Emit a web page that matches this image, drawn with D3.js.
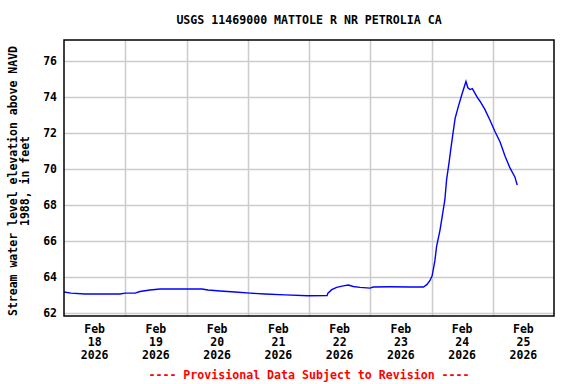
<!DOCTYPE html>
<html>
<head>
<meta charset="utf-8">
<script src="https://cdn.jsdelivr.net/npm/d3@7"></script>
<style>
  body { margin: 0; background: #fff; }
  text { font-family: "DejaVu Sans Mono", "Liberation Mono", monospace; font-weight: bold; }
</style>
</head>
<body>
<div id="chart"></div>
<script>
var title = "USGS 11469000 MATTOLE R NR PETROLIA CA";
var yTitle = ["Stream water level elevation above NAVD", "1988, in feet"];
var footer = "---- Provisional Data Subject to Revision ----";

var dayTicks = ["2026-02-18", "2026-02-19", "2026-02-20", "2026-02-21",
                "2026-02-22", "2026-02-23", "2026-02-24", "2026-02-25"];
var yTicks = [62, 64, 66, 68, 70, 72, 74, 76];

var times = [
  "2026-02-18 00:00", "2026-02-18 02:45", "2026-02-18 08:15", "2026-02-18 21:55",
  "2026-02-19 00:00", "2026-02-19 03:50", "2026-02-19 05:45", "2026-02-19 09:40",
  "2026-02-19 13:40", "2026-02-20 06:05", "2026-02-20 08:25", "2026-02-20 13:10",
  "2026-02-20 19:00", "2026-02-21 00:55", "2026-02-21 06:45", "2026-02-21 14:35",
  "2026-02-21 23:35", "2026-02-22 07:05", "2026-02-22 07:25", "2026-02-22 08:55",
  "2026-02-22 10:50", "2026-02-22 13:25", "2026-02-22 15:25", "2026-02-22 17:20",
  "2026-02-22 20:00", "2026-02-22 23:55", "2026-02-23 01:10", "2026-02-23 07:45",
  "2026-02-23 15:35", "2026-02-23 20:50", "2026-02-23 22:10", "2026-02-23 23:25",
  "2026-02-24 00:15", "2026-02-24 01:20", "2026-02-24 02:00", "2026-02-24 03:20",
  "2026-02-24 04:25", "2026-02-24 05:15", "2026-02-24 05:55", "2026-02-24 06:50",
  "2026-02-24 07:40", "2026-02-24 08:30", "2026-02-24 09:15", "2026-02-24 10:30",
  "2026-02-24 11:50", "2026-02-24 13:30", "2026-02-24 14:15", "2026-02-24 15:05",
  "2026-02-24 16:00", "2026-02-24 17:00", "2026-02-24 18:00", "2026-02-24 19:00",
  "2026-02-24 20:55", "2026-02-24 22:55", "2026-02-25 00:55", "2026-02-25 02:50",
  "2026-02-25 04:50", "2026-02-25 06:45", "2026-02-25 08:40", "2026-02-25 09:35"
];
var stage = [
  63.16, 63.10, 63.05, 63.05,
  63.10, 63.10, 63.19, 63.27,
  63.33, 63.33, 63.27, 63.22,
  63.16, 63.10, 63.05, 63.00,
  62.95, 62.97, 63.10, 63.29,
  63.42, 63.50, 63.55, 63.47,
  63.42, 63.38, 63.44, 63.45,
  63.44, 63.44, 63.57, 63.80,
  64.06, 64.90, 65.70, 66.60,
  67.55, 68.30, 69.40, 70.30,
  71.20, 72.05, 72.80, 73.45,
  74.10, 74.85, 74.50, 74.40,
  74.45, 74.20, 73.95, 73.75,
  73.30, 72.70, 72.06, 71.50,
  70.70, 70.05, 69.55, 69.10
];

var width = 576, height = 384;
var margin = {top: 40, right: 22, bottom: 68, left: 64};
var w = width - margin.left - margin.right,
    h = height - margin.top - margin.bottom;

var parseTime = d3.utcParse("%Y-%m-%d %H:%M"),
    parseDay = d3.utcParse("%Y-%m-%d");

var data = times.map(function(t, i) { return {time: parseTime(t), value: stage[i]}; });

var x = d3.scaleUtc()
    .domain([parseDay("2026-02-18"), parseDay("2026-02-26")])
    .range([0, w]);

var y = d3.scaleLinear()
    .domain([61.83, 77.15])
    .range([h, 0]);

var svg = d3.select("#chart").append("svg")
    .attr("width", width)
    .attr("height", height);

var g = svg.append("g")
    .attr("transform", "translate(" + margin.left + "," + margin.top + ")");

// grid
g.append("g")
    .selectAll("line.h")
    .data(yTicks)
    .enter().append("line")
    .attr("x1", 0).attr("x2", w)
    .attr("y1", function(d) { return Math.round(y(d)) + 0.5; })
    .attr("y2", function(d) { return Math.round(y(d)) + 0.5; })
    .attr("stroke", "#cccccc")
    .attr("stroke-width", 1.5);

g.append("g")
    .selectAll("line.v")
    .data(dayTicks.slice(1))
    .enter().append("line")
    .attr("x1", function(d) { return Math.round(x(parseDay(d))) + 0.5; })
    .attr("x2", function(d) { return Math.round(x(parseDay(d))) + 0.5; })
    .attr("y1", 0).attr("y2", h)
    .attr("stroke", "#cccccc")
    .attr("stroke-width", 1.5);

// data line
var line = d3.line()
    .x(function(d) { return x(d.time); })
    .y(function(d) { return y(d.value); });

g.append("path")
    .datum(data)
    .attr("fill", "none")
    .attr("stroke", "#0000ff")
    .attr("stroke-width", 1.4)
    .attr("d", line);

// frame
g.append("rect")
    .attr("x", 0).attr("y", 0)
    .attr("width", w).attr("height", h)
    .attr("fill", "none")
    .attr("stroke", "#000")
    .attr("stroke-width", 1.5);

// y tick labels
g.append("g")
    .selectAll("text")
    .data(yTicks)
    .enter().append("text")
    .attr("x", -7)
    .attr("y", function(d) { return y(d); })
    .attr("dy", "0.35em")
    .attr("text-anchor", "end")
    .attr("font-size", "11.5px")
    .text(function(d) { return d; });

// x tick labels at noon
var xl = g.append("g")
    .selectAll("text")
    .data(dayTicks)
    .enter().append("text")
    .attr("text-anchor", "middle")
    .attr("font-size", "11.5px")
    .attr("transform", function(d) {
        return "translate(" + x(d3.utcHour.offset(parseDay(d), 12)) + "," + (h + 17) + ")";
    });
xl.append("tspan").attr("x", 0).attr("y", 0).text("Feb");
xl.append("tspan").attr("x", 0).attr("y", 13).text(function(d) { return +d.slice(8); });
xl.append("tspan").attr("x", 0).attr("y", 26).text(function(d) { return d.slice(0, 4); });

// titles
svg.append("text")
    .attr("x", margin.left + w / 2)
    .attr("y", 24)
    .attr("text-anchor", "middle")
    .attr("font-size", "11.6px")
    .text(title);

svg.append("g")
    .attr("transform", "translate(0," + (margin.top + h / 2 + 3) + ") rotate(-90)")
    .selectAll("text")
    .data(yTitle)
    .enter().append("text")
    .attr("x", 0)
    .attr("y", function(d, i) { return 17 + i * 12; })
    .attr("text-anchor", "middle")
    .attr("font-size", "11.5px")
    .text(function(d) { return d; });

svg.append("text")
    .attr("x", margin.left + w / 2)
    .attr("y", 379)
    .attr("text-anchor", "middle")
    .attr("font-size", "11.6px")
    .attr("fill", "#ff0000")
    .text(footer);
</script>
</body>
</html>
